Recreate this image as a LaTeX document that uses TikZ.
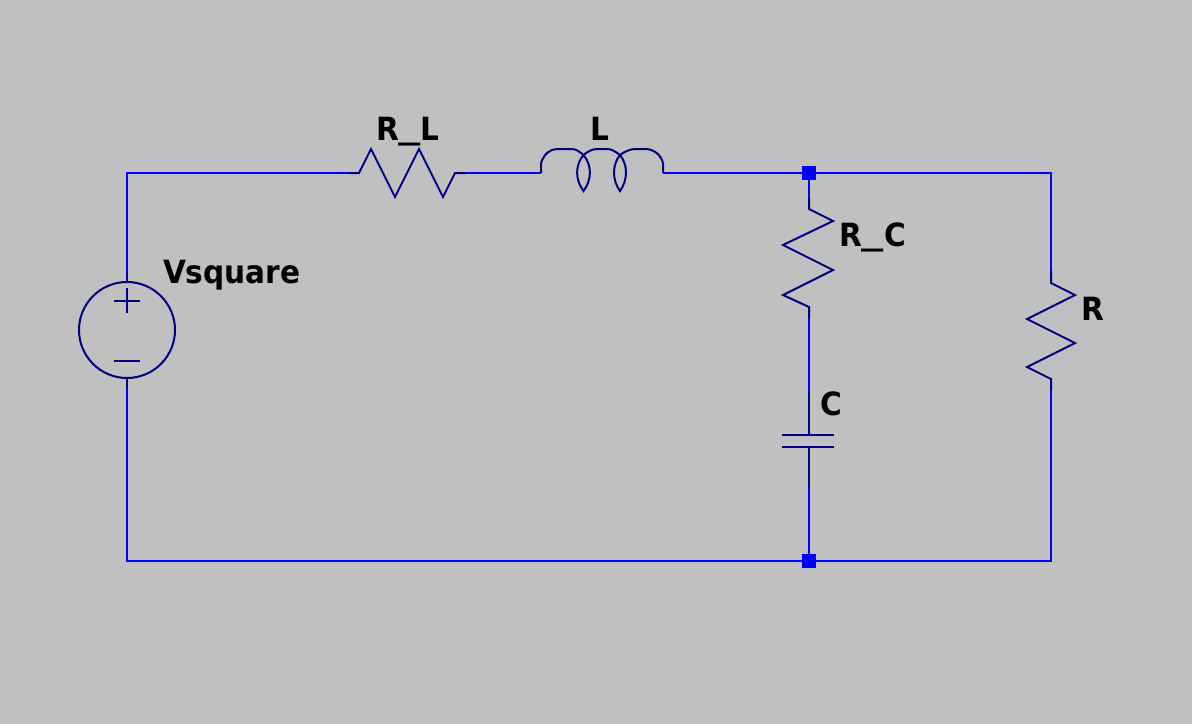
\documentclass[tikz,border=0pt]{standalone}
\usepackage{graphicx}
\usepackage{fontspec}
\setmainfont{DejaVu Sans}
\newfontfamily\lblfont[FakeStretch=0.925]{DejaVu Sans Bold}
\newcommand{\wideus}{\raisebox{1.5pt}{\scalebox{1.5}[1]{\_}}}
\definecolor{bg}{RGB}{192,192,192}
\definecolor{wirecol}{RGB}{0,0,255}
\definecolor{compcol}{RGB}{0,0,128}
\tikzset{
  wire/.style={draw=wirecol,line width=1.5pt,line cap=butt},
  comp/.style={draw=compcol,line width=1.5pt,line join=miter,miter limit=4},
  junction/.style={fill=wirecol,draw=none,rectangle,minimum size=10.5pt,inner sep=0pt},
  lbl/.style={anchor=base west,inner sep=0pt,outer sep=0pt,text=black,font=\lblfont\fontsize{24pt}{28pt}\selectfont},
  source/.style={circle,draw=compcol,line width=1.5pt,minimum size=72pt,inner sep=0pt}
}
\begin{document}
\begin{tikzpicture}[x=0.75pt,y=-0.75pt]
\useasboundingbox[fill=bg] (0,0) rectangle (1192,724);
% corners and terminals
\coordinate (tl) at (127,173);
\coordinate (bl) at (127,561);
\coordinate (tr) at (1051,173);
\coordinate (br) at (1051,561);
\coordinate (vtop) at (127,273);
\coordinate (vbot) at (127,387);
\coordinate (rla) at (348,173);
\coordinate (rlb) at (466,173);
\coordinate (la) at (541,173);
\coordinate (lb) at (663,173);
\coordinate (rca) at (809,198);
\coordinate (rcb) at (809,318);
\coordinate (ca) at (809,392);
\coordinate (cb) at (809,487);
\coordinate (ra) at (1051,271);
\coordinate (rb) at (1051,390);
\node[junction] (jt) at (809,173) {};
\node[junction] (jb) at (809,561) {};
% source
\node[source] (vs) at (127,330) {};
\draw[comp] (vtop) -- (vs.north);
\draw[comp] (vs.south) -- (vbot);
\draw[comp] (114,301) -- (140,301);
\draw[comp] (127,288) -- (127,313);
\draw[comp] (114,361) -- (140,361);
% wires
\draw[wire] (vtop) -- (tl) -- (rla);
\draw[wire] (rlb) -- (la);
\draw[wire] (lb) -- (jt.center) -- (tr) -- (ra);
\draw[wire] (jt.center) -- (rca);
\draw[wire] (rcb) -- (ca);
\draw[wire] (cb) -- (jb.center);
\draw[wire] (vbot) -- (bl) -- (jb.center) -- (br) -- (rb);
% R_L
\draw[comp] (rla) -- (359,173) -- (371,149) -- (395,197) -- (419,149) -- (443,197) -- (455,173) -- (rlb);
% L
\draw[comp] (la) -- (541,163)
  .. controls (544,154) and (550,149) .. (557,149) -- (572,149)
  .. controls (576,149) and (580,152) .. (583.5,155)
  .. controls (575,165) and (575,180) .. (583.5,191)
  .. controls (592,180) and (592,165) .. (583.5,155)
  .. controls (587,152) and (592,149) .. (597,149) -- (607,149)
  .. controls (612,149) and (616,152) .. (620,155)
  .. controls (612,165) and (612,180) .. (620,191)
  .. controls (628,180) and (628,165) .. (620,155)
  .. controls (624,152) and (630,149) .. (635,149) -- (645,149)
  .. controls (654,149) and (661,155) .. (663,163) -- (lb);
% R_C
\draw[comp] (rca) -- (809,209) -- (833,221) -- (783,245) -- (833,270) -- (783,295) -- (809,307) -- (rcb);
% C
\draw[comp] (ca) -- (809,435);
\draw[comp] (782,435) -- (834,435);
\draw[comp] (782,447) -- (834,447);
\draw[comp] (809,447) -- (cb);
% R
\draw[comp] (ra) -- (1051,283) -- (1075,295) -- (1027,319) -- (1075,343) -- (1027,367) -- (1051,379) -- (rb);
% labels
\node[lbl] (lblrl) at (376,140) {R\wideus L};
\node[lbl] (lbll) at (590,140) {L};
\node[lbl] (lblv) at (163,283) {Vsquare};
\node[lbl] (lblrc) at (839,246) {R\wideus C};
\node[lbl] (lblc) at (820,415) {C};
\node[lbl] (lblr) at (1081,320) {R};
\end{tikzpicture}
\end{document}
